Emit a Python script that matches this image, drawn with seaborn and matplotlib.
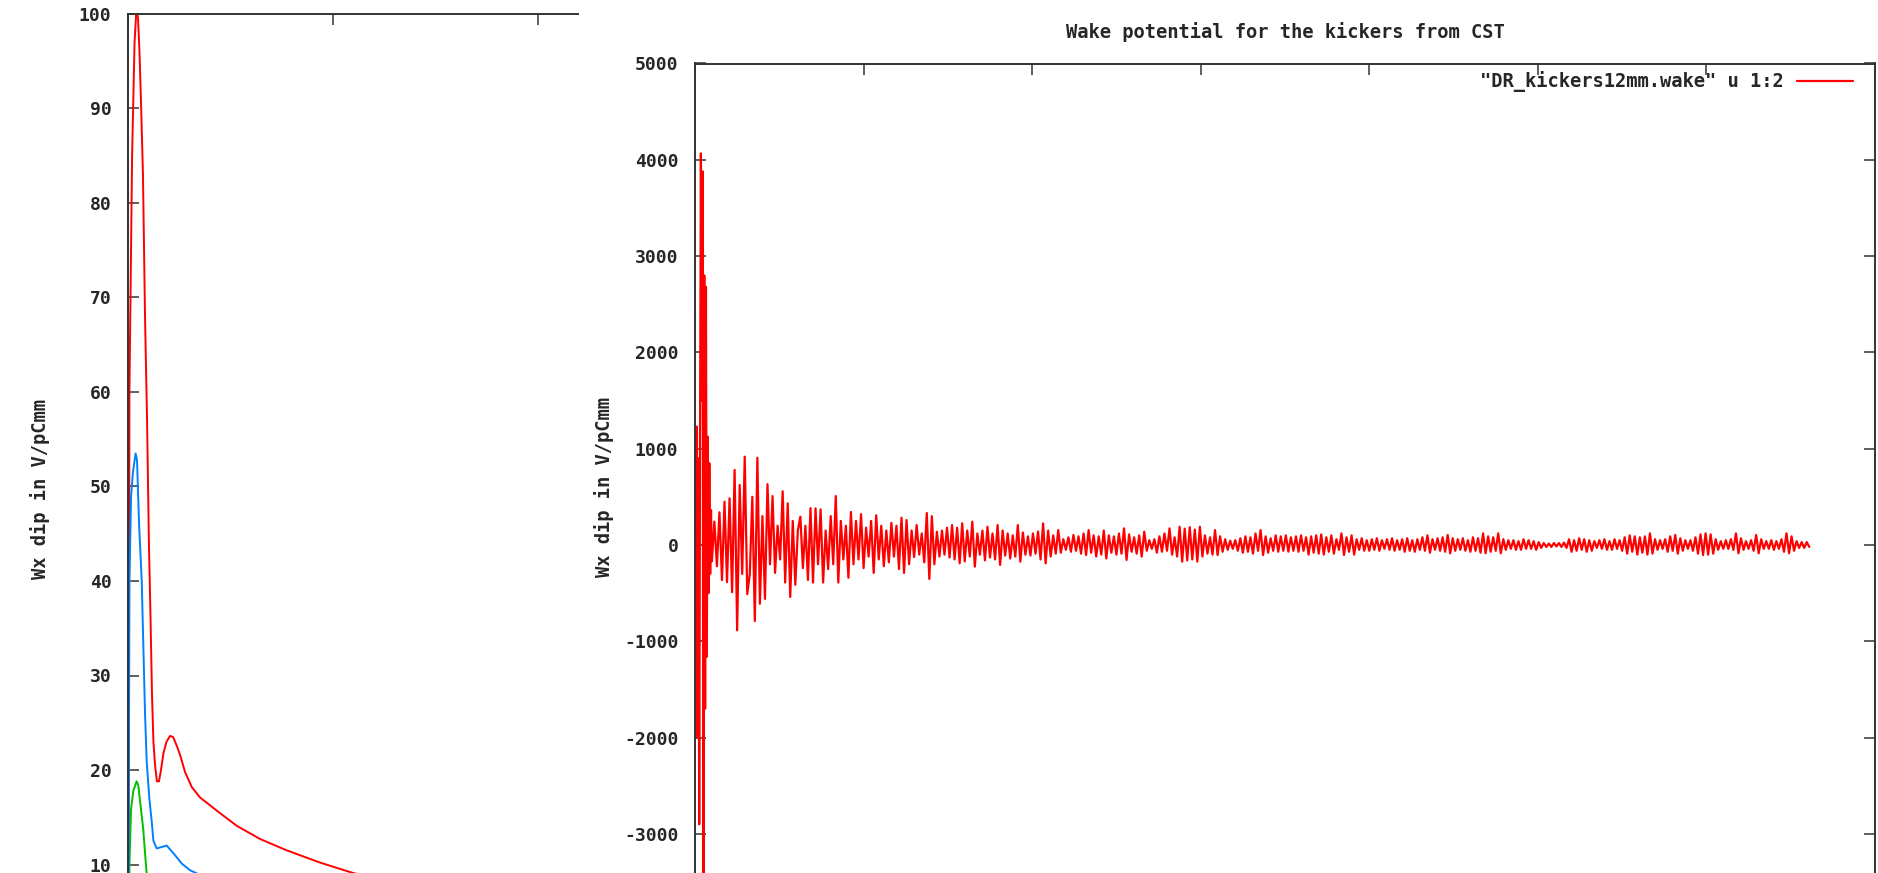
import matplotlib
matplotlib.use("Agg")
import numpy as np
import matplotlib.pyplot as plt
import seaborn as sns

# ---------------- left panel: Wx dip, three curves ----------------
red_s = [0.002, 0.007, 0.020, 0.032, 0.041, 0.049, 0.056, 0.063, 0.073, 0.083,
         0.093, 0.102, 0.110, 0.117, 0.124, 0.132, 0.141, 0.151, 0.161, 0.173,
         0.188, 0.205, 0.220, 0.239, 0.254, 0.278, 0.311, 0.351, 0.433, 0.530,
         0.644, 0.774, 0.937, 1.098, 1.327, 1.620, 1.961, 2.302]
red_w = [0, 60, 85, 97, 100.5, 99.5, 96, 91, 83, 68,
         57, 44, 36, 28, 23, 20.5, 18.8, 18.8, 20, 21.8,
         23, 23.6, 23.5, 22.5, 21.6, 19.8, 18.2, 17.1, 15.7, 14.1,
         12.7, 11.5, 10.2, 9.1, 7.9, 6.8, 5.9, 5.2]

blue_s = [0.002, 0.007, 0.015, 0.024, 0.037, 0.044, 0.054, 0.067, 0.075, 0.083,
          0.091, 0.104, 0.116, 0.124, 0.140, 0.156, 0.189, 0.205, 0.229, 0.262,
          0.302, 0.341, 0.449, 0.644, 0.937, 1.327, 1.815, 2.302]
blue_w = [0, 40, 49, 51.5, 53.5, 52.8, 46, 40, 33, 26,
          21, 17, 14.5, 12.5, 11.7, 11.8, 12.0, 11.6, 11.0, 10.1,
          9.4, 9.0, 8.0, 6.8, 5.6, 4.6, 3.8, 3.2]

green_s = [0.002, 0.007, 0.015, 0.026, 0.042, 0.050, 0.062, 0.075, 0.083, 0.091,
           0.102, 0.117, 0.156, 0.351]
green_w = [0, 10, 15.9, 17.8, 18.8, 18.4, 16.1, 13.6, 11.2, 9.1,
           6.5, 4.5, 3.0, 2.0]

left_xticks = [0, 1, 2]
left_yticks = list(range(0, 101, 10))
left_ytick_labels = [""] + [str(v) for v in range(10, 101, 10)]

# ---------------- right panel: wake potential from CST ----------------
wake_label = '"DR_kickers12mm.wake" u 1:2'
wake_title = "Wake potential for the kickers from CST"
y_label = "Wx dip in V/pCmm"

# first samples, fine spacing
wake_head_step = 0.005
wake_head = [120, 880, 1230, -2000, 900, -2900, 1200, 4067, 1500, 3880,
             -3900, 2800, -1700, 2680, -1160, 1125, -500, 850, -300, 363]

# remaining samples, coarser spacing, starting at s = 0.1
wake_tail_start = 0.1
wake_tail_step = 0.015
wake_tail = [
    -170, 243, -220, 340, -364, 450, -385, 485, -490, 780, -886, 623, -300, 917, -510,
    -300, 500, -790, 906, -610, 300, -560, 632, -200, 508, -290, 200, -150, 558, -390, 433, -540, 250, -413, 150,
    294, -240, 200, -363, 383, -390, 380, -200, 370, -390, 150, -250, 300, -200, 508, -390, 250, -150, 200, -340,
    343, -200, 250, -150, 320, -240, 180, -120, 250, -290, 309, -150, 200, -220, 150, -180, 230, -120, 200, -250,
    284, -290, 259, -200, 150, -125, 207, -100, 120, -180, 332, -353, 300, -200, 138, -120, 150, -100, 180, -130,
    207, -150, 180, -190, 225, -170, 150, -120, 242, -225, 120, -100, 150, -160, 190, -130, 120, -150, 207, -207,
    150, -110, 120, -140, 100, -120, 207, -173, 130, -100, 90, -110, 120, -90, 140, -150, 225, -190, 150, -120,
    100, -90, 155, -80, 60, -50, 80, -70, 104, -60, 90, -90, 120, -104, 155, -80, 100, -120, 90, -100,
    150, -140, 100, -80, 90, -100, 120, -90, 173, -155, 110, -70, 80, -90, 100, -121, 138, -60, 50, -40,
    60, -80, 90, -70, 120, -60, 173, -100, 80, -120, 190, -173, 170, -160, 185, -150, 160, -173, 190, -120,
    100, -90, 80, -100, 155, -104, 90, -70, 60, -50, 45, -40, 50, -60, 70, -80, 90, -70, 80, -90,
    120, -60, 155, -104, 90, -80, 70, -60, 100, -70, 90, -60, 100, -69, 80, -60, 90, -70, 100, -60,
    80, -100, 90, -80, 100, -90, 110, -100, 80, -70, 100, -90, 60, -50, 121, -104, 80, -70, 100, -100,
    60, -50, 70, -60, 50, -60, 60, -50, 70, -60, 50, -40, 60, -50, 70, -60, 50, -50, 60, -70,
    70, -60, 50, -70, 60, -50, 80, -60, 100, -80, 60, -50, 70, -60, 80, -70, 104, -86, 70, -60,
    60, -50, 70, -60, 50, -70, 80, -60, 70, -80, 121, -86, 90, -70, 80, -60, 121, -86, 60, -50,
    50, -40, 50, -50, 40, -50, 60, -40, 50, -40, 40, -50, 30, -30, 20, -20, 15, -20, 20, -15,
    20, -20, 25, -30, 60, -70, 50, -60, 70, -50, 60, -70, 50, -60, 40, -30, 50, -40, 60, -50,
    40, -50, 60, -40, 50, -60, 80, -90, 100, -70, 90, -100, 80, -80, 90, -100, 121, -90, 60, -50,
    50, -40, 60, -70, 90, -60, 104, -90, 70, -60, 50, -40, 50, -60, 80, -90, 110, -104, 121, -100,
    110, -90, 60, -50, 40, -40, 50, -40, 60, -50, 121, -86, 70, -50, 40, -40, 50, -60, 104, -86,
    60, -40, 40, -40, 50, -50, 40, -40, 60, -70, 121, -86, 90, -60, 40, -30, 30, -30, 30, -20,
]

right_xticks = list(range(0, 8))
right_yticks = list(range(-5000, 5001, 1000))
# the two lowest ticks lie below the printed area
right_ytick_labels = ["", ""] + [str(v) for v in range(-3000, 5001, 1000)]

s_head = np.arange(len(wake_head)) * wake_head_step
s_tail = wake_tail_start + np.arange(len(wake_tail)) * wake_tail_step
wake_s = np.concatenate([s_head, s_tail])
wake_w = np.array(wake_head + wake_tail, dtype=float)

# ---------------- styling ----------------
sns.set_theme(style="ticks")
plt.rcParams["font.family"] = ["DejaVu Sans Mono", "DejaVu Sans"]
plt.rcParams["font.weight"] = "bold"
FS = 13.5
TICK_FS = 13
SPINE = "#333333"

W, H = 1878, 873
fig = plt.figure(figsize=(W / 100, H / 100), dpi=100)
fig.patch.set_facecolor("white")

axL = fig.add_axes([128 / W, (H - 959) / H, 450 / W, 945 / H])
axR = fig.add_axes([695 / W, (H - 1026.5) / H, 1180 / W, 963 / H])

# left panel curves
sns.lineplot(x=red_s, y=red_w, ax=axL, color="#ff0000", lw=1.4, sort=False, estimator=None)
sns.lineplot(x=green_s, y=green_w, ax=axL, color="#00c000", lw=1.4, sort=False, estimator=None)
sns.lineplot(x=blue_s, y=blue_w, ax=axL, color="#0080ff", lw=1.4, sort=False, estimator=None)

axL.set_xlim(0, 450 / 205)
axL.set_ylim(0, 100)
axL.set_xticks(left_xticks)
axL.set_xticklabels([""] * len(left_xticks))
axL.set_yticks(left_yticks)
axL.set_yticklabels(left_ytick_labels)
axL.spines["right"].set_visible(False)
axL.tick_params(axis="both", direction="in", length=8, width=1.1, color=SPINE,
                top=True, right=False, labelsize=TICK_FS, pad=12)
axL.set_ylabel(y_label, fontsize=FS, fontweight="bold")
axL.yaxis.set_label_coords((50 - 128) / 450, 0.497)

# right panel wake
sns.lineplot(x=wake_s, y=wake_w, ax=axR, color="#ff0000", lw=1.6, sort=False,
             estimator=None, label=wake_label)
axR.set_xlim(0, 7)
axR.set_ylim(-5000, 5000)
axR.set_xticks(right_xticks)
axR.set_xticklabels([""] * len(right_xticks))
axR.set_yticks(right_yticks)
axR.set_yticklabels(right_ytick_labels)
axR.tick_params(axis="both", direction="in", length=8, width=1.1, color=SPINE,
                top=True, right=True, labelsize=TICK_FS, pad=12)
axR.set_ylabel(y_label, fontsize=FS, fontweight="bold")
axR.yaxis.set_label_coords((614 - 695) / 1180, (1026.5 - 487) / 963)
axR.set_title(wake_title, fontsize=FS, fontweight="bold", pad=18)
axR.legend(loc="upper right", bbox_to_anchor=((1853 - 695) / 1180, 1 - 8 / 963),
           frameon=False, markerfirst=False, handlelength=3.0, handletextpad=0.7,
           borderaxespad=0, borderpad=0, prop={"size": FS, "weight": "bold"})

for ax in (axL, axR):
    ax.set_facecolor("white")
    ax.set_xlabel("")
    for sp in ax.spines.values():
        sp.set_color(SPINE)
        sp.set_linewidth(1.4)
    for lab in ax.get_xticklabels() + ax.get_yticklabels():
        lab.set_fontweight("bold")

fig.savefig("out.png", dpi=100, facecolor="white")
